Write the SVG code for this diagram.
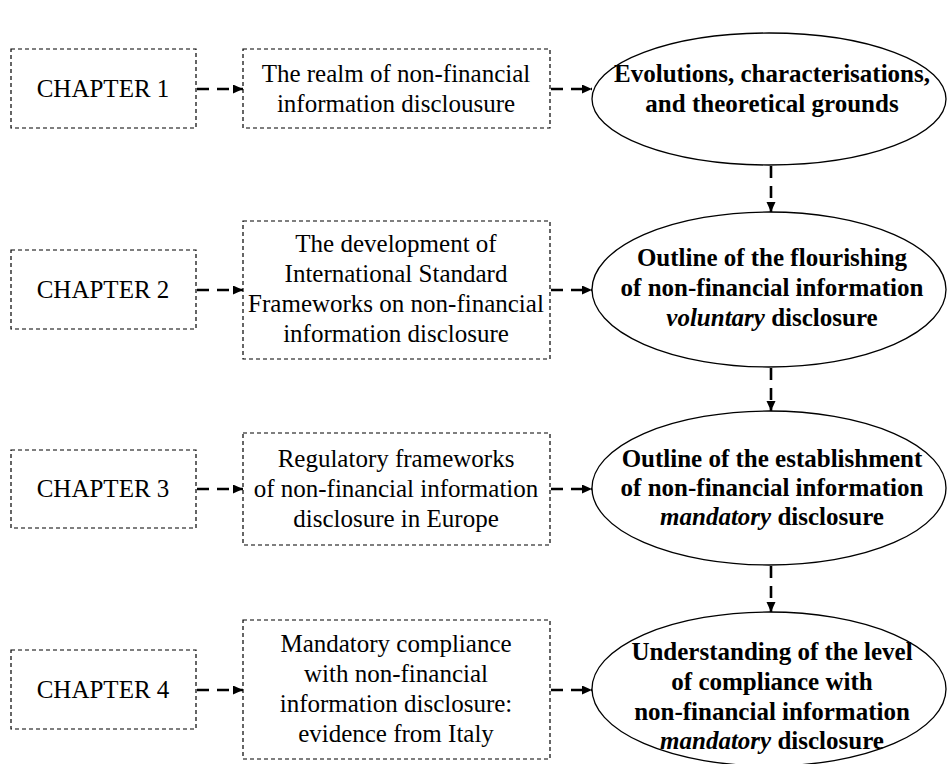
<svg xmlns="http://www.w3.org/2000/svg" width="948" height="764" viewBox="0 0 948 764">
<style>
.box{fill:#fff;stroke:#000;stroke-width:1.2;stroke-dasharray:4 3}
.ell{fill:#fff;stroke:#000;stroke-width:1.3}
.t{font-family:"Liberation Serif","Times New Roman",serif;font-size:25px;fill:#000;text-anchor:middle}
.b{font-weight:bold}
.conn line{stroke:#000;stroke-width:2.6;stroke-dasharray:12 8;fill:none}
</style>
<defs>
<marker id="ah" markerUnits="userSpaceOnUse" markerWidth="11" markerHeight="10" refX="10" refY="4.5" orient="auto">
<path d="M0,0 L10,4.5 L0,9 z" fill="#000"/>
</marker>
</defs>
<rect width="948" height="764" fill="#fff"/>

<g id="ch1"><rect class="box" x="11" y="49" width="185" height="79"/><text class="t" x="103" y="97">CHAPTER 1</text></g>
<g id="ch2"><rect class="box" x="11" y="250" width="185" height="79"/><text class="t" x="103" y="298">CHAPTER 2</text></g>
<g id="ch3"><rect class="box" x="11" y="450" width="185" height="78"/><text class="t" x="103" y="497">CHAPTER 3</text></g>
<g id="ch4"><rect class="box" x="11" y="650" width="185" height="79"/><text class="t" x="103" y="698">CHAPTER 4</text></g>

<g id="m1"><rect class="box" x="243" y="49" width="307" height="79"/>
<text class="t" x="396" y="82">The realm of non-financial</text>
<text class="t" x="396" y="112">information disclousure</text></g>
<g id="m2"><rect class="box" x="243" y="221" width="307" height="138"/>
<text class="t" x="396" y="252">The development of</text>
<text class="t" x="396" y="282">International Standard</text>
<text class="t" x="396" y="312">Frameworks on non-financial</text>
<text class="t" x="396" y="342">information disclosure</text></g>
<g id="m3"><rect class="box" x="243" y="433" width="307" height="112"/>
<text class="t" x="396" y="467">Regulatory frameworks</text>
<text class="t" x="396" y="497">of non-financial information</text>
<text class="t" x="396" y="527">disclosure in Europe</text></g>
<g id="m4"><rect class="box" x="243" y="620" width="307" height="139"/>
<text class="t" x="396" y="652">Mandatory compliance</text>
<text class="t" x="396" y="682">with non-financial</text>
<text class="t" x="396" y="712">information disclosure:</text>
<text class="t" x="396" y="742">evidence from Italy</text></g>

<g id="e1"><ellipse class="ell" cx="769" cy="99" rx="177" ry="66"/>
<text class="t b" x="772" y="82">Evolutions, characterisations,</text>
<text class="t b" x="772" y="112">and theoretical grounds</text></g>
<g id="e2"><ellipse class="ell" cx="769" cy="289.5" rx="177" ry="77.5"/>
<text class="t b" x="772" y="266">Outline of the flourishing</text>
<text class="t b" x="772" y="296">of non-financial information</text>
<text class="t b" x="772" y="326"><tspan font-style="italic">voluntary</tspan> disclosure</text></g>
<g id="e3"><ellipse class="ell" cx="769" cy="488" rx="177" ry="77"/>
<text class="t b" x="772" y="467">Outline of the establishment</text>
<text class="t b" x="772" y="496">of non-financial information</text>
<text class="t b" x="772" y="525"><tspan font-style="italic">mandatory</tspan> disclosure</text></g>
<g id="e4"><ellipse class="ell" cx="769" cy="689" rx="177" ry="77"/>
<text class="t b" x="772" y="660">Understanding of the level</text>
<text class="t b" x="772" y="690">of compliance with</text>
<text class="t b" x="772" y="720">non-financial information</text>
<text class="t b" x="772" y="749"><tspan font-style="italic">mandatory</tspan> disclosure</text></g>

<g id="connectors" class="conn">
<line x1="197" y1="89" x2="243" y2="89" marker-end="url(#ah)"/>
<line x1="551" y1="89" x2="592" y2="89" marker-end="url(#ah)"/>
<line x1="197" y1="290" x2="243" y2="290" marker-end="url(#ah)"/>
<line x1="551" y1="290" x2="592" y2="290" marker-end="url(#ah)"/>
<line x1="197" y1="489" x2="243" y2="489" marker-end="url(#ah)"/>
<line x1="551" y1="489" x2="592" y2="489" marker-end="url(#ah)"/>
<line x1="197" y1="690" x2="243" y2="690" marker-end="url(#ah)"/>
<line x1="551" y1="690" x2="592" y2="690" marker-end="url(#ah)"/>
<line x1="771" y1="166" x2="771" y2="212" marker-end="url(#ah)"/>
<line x1="771" y1="368" x2="771" y2="411" marker-end="url(#ah)"/>
<line x1="771" y1="566" x2="771" y2="612" marker-end="url(#ah)"/>
</g>
</svg>
